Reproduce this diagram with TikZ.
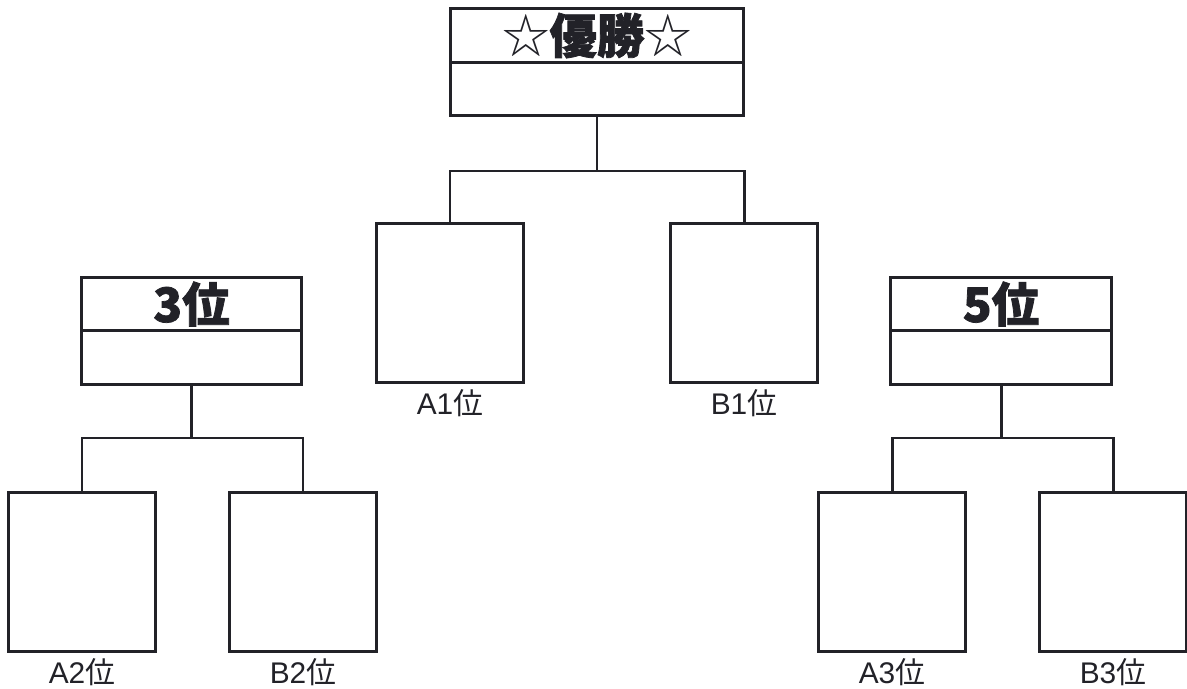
\documentclass[tikz,border=0pt]{standalone}
\usepackage{fontspec}
\usepackage{tikz}
\usetikzlibrary{
  positioning,
  calc
}
\newfontfamily\jpfont{Noto Sans CJK JP}[BoldFeatures={FakeBold=1.6}]
\newfontfamily\latinfont{Liberation Sans}
\newcommand\rankof[1]{#1{\jpfont 位}}
\definecolor{inkline}{RGB}{34,34,40}
\tikzstyle{frame}=[draw=inkline, line width=1.7pt, inner sep=0pt, outer sep=0pt]
\tikzstyle{headbox}=[frame, minimum height=1.07cm, font=\jpfont\bfseries\fontsize{27pt}{27pt}\selectfont, text=inkline]
\tikzstyle{seatbox}=[frame, minimum width=2.94cm, minimum height=3.2cm]
\tikzstyle{seatlabel}=[inner sep=0pt, font=\latinfont\fontsize{17pt}{17pt}\selectfont, text=inkline]
\tikzstyle{bracket}=[draw=inkline, line width=1.7pt]

\begin{document}
\begin{tikzpicture}[x=0.02cm, y=-0.02cm]
        \useasboundingbox (0,0) rectangle (1187,689);

        % 決勝
        \node (champhead) at (597,35.5) [headbox, minimum width=5.88cm] {{\mdseries ☆}優勝{\mdseries ☆}};
        \node (champbody) [below=0pt of champhead, headbox, minimum width=5.88cm] {};
        \node (A1) at (450,303) [seatbox] {};
        \node (B1) at (744,303) [seatbox] {};
        \node (A1label) [below=0.12cm of A1, seatlabel] {\rankof{A1}};
        \node (B1label) [below=0.12cm of B1, seatlabel] {\rankof{B1}};

        % 3位決定戦
        \node (thirdhead) at (191.5,304) [headbox, minimum width=4.42cm] {3位};
        \node (thirdbody) [below=0pt of thirdhead, headbox, minimum width=4.42cm] {};
        \node (A2) at (82,572) [seatbox] {};
        \node (B2) at (303,572) [seatbox] {};
        \node (A2label) [below=0.12cm of A2, seatlabel] {\rankof{A2}};
        \node (B2label) [below=0.12cm of B2, seatlabel] {\rankof{B2}};

        % 5位決定戦
        \node (fifthhead) at (1001,304) [headbox, minimum width=4.44cm] {5位};
        \node (fifthbody) [below=0pt of fifthhead, headbox, minimum width=4.44cm] {};
        \node (A3) at (892,572) [seatbox] {};
        \node (B3) at (1113,572) [seatbox] {};
        \node (A3label) [below=0.12cm of A3, seatlabel] {\rankof{A3}};
        \node (B3label) [below=0.12cm of B3, seatlabel] {\rankof{B3}};

        % 分岐点
        \coordinate (topfork) at (597,171);
        \coordinate (thirdfork) at (191.5,438);
        \coordinate (fifthfork) at (1001,438);

        % トーナメントの線
        \draw[bracket] (champbody.south) -- (topfork);
        \draw[bracket] (A1.north) |- (topfork) -| (B1.north);
        \draw[bracket] (thirdbody.south) -- (thirdfork);
        \draw[bracket] (A2.north) |- (thirdfork) -| (B2.north);
        \draw[bracket] (fifthbody.south) -- (fifthfork);
        \draw[bracket] (A3.north) |- (fifthfork) -| (B3.north);
      \end{tikzpicture}
\end{document}
